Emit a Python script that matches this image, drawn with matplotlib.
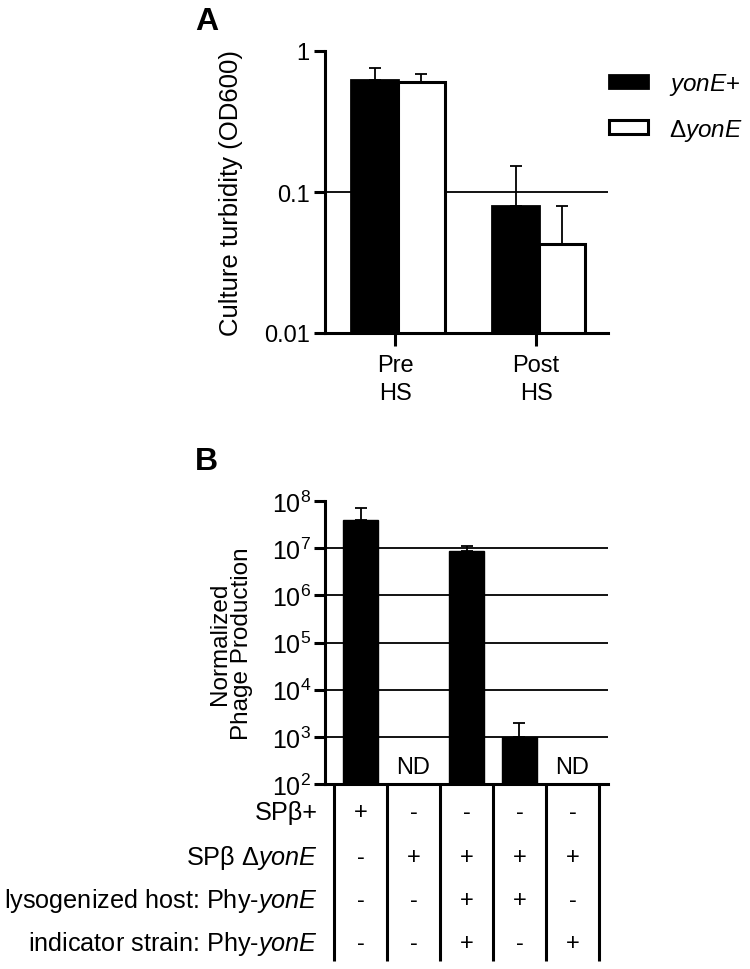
import matplotlib
matplotlib.use("Agg")
import matplotlib.pyplot as plt
import matplotlib.transforms as mtransforms
from matplotlib.patches import Patch
from matplotlib.ticker import FixedLocator, FixedFormatter, NullLocator
import numpy as np

plt.rcParams['font.family'] = ['Liberation Sans', 'DejaVu Sans']
plt.rcParams['mathtext.fontset'] = 'custom'
plt.rcParams['mathtext.rm'] = 'Liberation Sans'
plt.rcParams['mathtext.it'] = 'Liberation Sans:italic'
plt.rcParams['mathtext.bf'] = 'Liberation Sans:bold'

# --- Panel A data ---
conditions = ["Pre\nHS", "Post\nHS"]
od_yone = [0.62, 0.079]
od_yone_err = [0.135, 0.074]
od_delta = [0.60, 0.042]
od_delta_err = [0.087, 0.037]

# --- Panel B data ---
phage_prod = [4.0e7, np.nan, 8.5e6, 1.0e3, np.nan]
phage_err = [3.2e7, 0, 2.5e6, 1.0e3, 0]
nd_flags = [False, True, False, False, True]
row_labels = ["SP\u03b2+", "SP\u03b2 \u0394$\\mathit{yonE}$",
              "lysogenized host: Phy-$\\mathit{yonE}$",
              "indicator strain: Phy-$\\mathit{yonE}$"]
row_marks = [
    ["+", "-", "-", "-", "-"],
    ["-", "+", "+", "+", "+"],
    ["-", "-", "+", "+", "-"],
    ["-", "-", "+", "-", "+"],
]

W, H = 750, 970
fig = plt.figure(figsize=(7.5, 9.7), dpi=100)

# ---------------- Panel A ----------------
axA = fig.add_axes([325 / W, 1 - 334 / H, 283 / W, (334 - 52) / H])
x = np.arange(len(conditions))
bw = 0.33
axA.axhline(0.1, color="black", lw=1.3, zorder=0)
axA.bar(x - bw / 2, od_yone, bw, bottom=0.001, color="black", edgecolor="black",
        linewidth=2, zorder=2)
axA.bar(x + bw / 2, od_delta, bw, bottom=0.001, color="white", edgecolor="black",
        linewidth=2.2, zorder=2)
axA.errorbar(x - bw / 2, od_yone, yerr=[np.zeros(2), od_yone_err], fmt="none",
             ecolor="black", elinewidth=1.3, capsize=4.5, capthick=1.3, zorder=1)
axA.errorbar(x + bw / 2, od_delta, yerr=[np.zeros(2), od_delta_err], fmt="none",
             ecolor="black", elinewidth=1.3, capsize=4.5, capthick=1.3, zorder=1)
axA.set_yscale("log")
axA.set_ylim(0.01, 1)
axA.set_xlim(-0.518, 1.49)
axA.yaxis.set_major_locator(FixedLocator([0.01, 0.1, 1]))
axA.yaxis.set_major_formatter(FixedFormatter(["0.01", "0.1", "1"]))
axA.yaxis.set_minor_locator(NullLocator())
axA.set_xticks(x - 0.02)
axA.set_xticklabels(conditions, fontsize=17, linespacing=1.35)
axA.tick_params(axis="y", labelsize=17, width=2.2, length=8, pad=3)
axA.tick_params(axis="x", width=2.2, length=9, pad=6)
for s in ["top", "right"]:
    axA.spines[s].set_visible(False)
for s in ["left", "bottom"]:
    axA.spines[s].set_linewidth(2.2)
axA.set_ylabel("Culture turbidity (OD600)", fontsize=18.5)
axA.yaxis.set_label_coords(-0.29, 0.5)

handles = [Patch(facecolor="black", edgecolor="black", linewidth=2),
           Patch(facecolor="white", edgecolor="black", linewidth=2.2)]
fig.legend(handles, ["$\\mathit{yonE}$+", "\u0394$\\mathit{yonE}$"],
           loc="center left", bbox_to_anchor=(609 / W, 1 - 108 / H), frameon=False,
           fontsize=17.5, handlelength=1.6, handleheight=0.47, handletextpad=0.85,
           labelspacing=0.8, borderpad=0, borderaxespad=0)

fig.text(195 / W, 1 - 22 / H, "A", fontsize=23, fontweight="bold", va="center")

# ---------------- Panel B ----------------
axB = fig.add_axes([325 / W, 1 - 785 / H, 283 / W, (785 - 502) / H])
xb = np.arange(len(phage_prod))
for e in [1e3, 1e4, 1e5, 1e6, 1e7]:
    axB.axhline(e, color="black", lw=1.3, zorder=0)
vals = np.nan_to_num(np.array(phage_prod), nan=0.0)
axB.bar(xb, vals, 0.66, bottom=1, color="black", edgecolor="black",
        linewidth=1, zorder=2)
mask = ~np.isnan(np.array(phage_prod))
axB.errorbar(xb[mask], np.array(phage_prod)[mask],
             yerr=[np.zeros(mask.sum()), np.array(phage_err)[mask]], fmt="none",
             ecolor="black", elinewidth=1.3, capsize=4, capthick=1.3, zorder=1)
for i, nd in enumerate(nd_flags):
    if nd:
        axB.text(xb[i], 10 ** 2.36, "ND", ha="center", va="center", fontsize=17)
axB.set_yscale("log")
axB.set_ylim(1e2, 1e8)
axB.set_xlim(-0.67, 4.67)
decades = [2, 3, 4, 5, 6, 7, 8]
axB.yaxis.set_major_locator(FixedLocator([10.0 ** d for d in decades]))
axB.yaxis.set_major_formatter(FixedFormatter(["$10^{%d}$" % d for d in decades]))
axB.yaxis.set_minor_locator(NullLocator())
axB.set_xticks([])
axB.tick_params(axis="y", labelsize=18, width=2.2, length=8, pad=2)
for s in ["top", "right"]:
    axB.spines[s].set_visible(False)
for s in ["left", "bottom"]:
    axB.spines[s].set_linewidth(2.2)
axB.set_ylabel("Normalized\nPhage Production", fontsize=17.5, linespacing=1.0)
axB.yaxis.set_label_coords(-0.255, 0.5)

fig.text(195 / W, 1 - 462 / H, "B", fontsize=23, fontweight="bold", va="center")

# table under panel B
trans = mtransforms.blended_transform_factory(axB.transData, fig.transFigure)
y_top = 1 - 785 / H
y_bot = 1 - 962 / H
for b in np.arange(len(phage_prod) + 1) - 0.5:
    axB.plot([b, b], [y_top, y_bot], color="black", lw=2.2, transform=trans,
             clip_on=False, solid_capstyle="butt")
row_y = [813, 858, 901, 944]
for r, lab in enumerate(row_labels):
    yf = 1 - row_y[r] / H
    fig.text(318 / W, yf, lab, ha="right", va="center", fontsize=18.2)
    for i, m in enumerate(row_marks[r]):
        axB.text(xb[i], yf, m, ha="center", va="center", fontsize=17,
                 transform=trans)

fig.savefig("out.png", dpi=100)
